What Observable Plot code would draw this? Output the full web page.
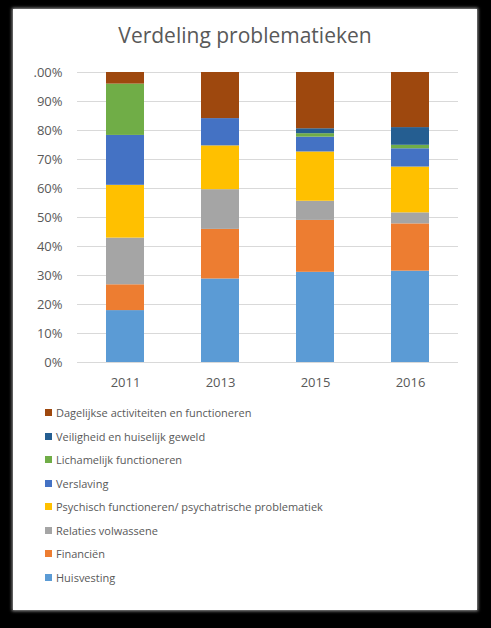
<!DOCTYPE html>
<html>
<head>
<meta charset="utf-8">
<script src="https://cdn.jsdelivr.net/npm/d3@7"></script>
<script src="https://cdn.jsdelivr.net/npm/@observablehq/plot@0.6"></script>
<style>
  html, body { margin: 0; padding: 0; background: #000; }
  body { width: 491px; height: 628px; position: relative; overflow: hidden; font-family: "Open Sans", sans-serif; }
  #panel { position: absolute; left: 13px; top: 9px; width: 464px; height: 601px; background: #fff;
           box-shadow: 0 0 3px 1px rgba(170,170,170,0.9); }
  #title { position: absolute; left: 0; width: 464px; top: 12px; text-align: center; font-size: 21px; color: #595959; }
  #chart { position: absolute; left: 0; top: 51px; }
  #legend { position: absolute; left: 32px; top: 392px; font-size: 11px; color: #595959; }
  .item { height: 23.5px; line-height: 23.5px; display: flex; align-items: center; }
  .sw { width: 7px; height: 7px; margin-right: 4px; }
</style>
</head>
<body>
<div id="panel">
  <div id="title">Verdeling problematieken</div>
  <div id="chart"></div>
  <div id="legend"></div>
</div>
<script>
const years = ["2011", "2013", "2015", "2016"];
const categories = [
  "Huisvesting",
  "Financiën",
  "Relaties volwassene",
  "Psychisch functioneren/ psychatrische problematiek",
  "Verslaving",
  "Lichamelijk functioneren",
  "Veiligheid en huiselijk geweld",
  "Dagelijkse activiteiten en functioneren"
];
const colors = ["#5B9BD5", "#ED7D31", "#A5A5A5", "#FFC000", "#4472C4", "#70AD47", "#255E91", "#9E480E"];

// percentages per year (2011, 2013, 2015, 2016)
const huisvesting  = [17.9, 28.8, 31.1, 31.5];
const financien    = [8.9, 17.1, 17.9, 16.3];
const relaties     = [16.1, 13.7, 6.6, 3.8];
const psychisch    = [18.2, 15.1, 17.0, 15.8];
const verslaving   = [17.2, 9.4, 5.1, 6.3];
const lichamelijk  = [17.7, 0, 1.2, 1.2];
const veiligheid   = [0, 0, 1.7, 6.1];
const dagelijkse   = [4.0, 15.9, 19.4, 19.0];

const yTicks = [0, 10, 20, 30, 40, 50, 60, 70, 80, 90, 100];
const yTickLabels = ["0%", "10%", "20%", "30%", "40%", "50%", "60%", "70%", "80%", "90%", ".00%"];

const series = [huisvesting, financien, relaties, psychisch, verslaving, lichamelijk, veiligheid, dagelijkse];
const data = [];
years.forEach((y, i) => {
  categories.forEach((c, j) => {
    data.push({year: y, category: c, value: series[j][i]});
  });
});

const chart = Plot.plot({
  width: 464,
  height: 340,
  marginLeft: 64,
  marginRight: 19,
  marginTop: 12,
  marginBottom: 38,
  style: {fontFamily: "'Open Sans', sans-serif", fontSize: "13px", color: "#595959", background: "transparent"},
  x: {domain: years, paddingInner: 0.6, paddingOuter: 0.3, label: null},
  y: {domain: [0, 100], label: null},
  color: {domain: categories, range: colors},
  marks: [
    Plot.gridY(yTicks, {stroke: "#D9D9D9", strokeOpacity: 1}),
    Plot.barY(data, Plot.stackY({x: "year", y: "value", fill: "category", order: null})),
    Plot.axisX({tickSize: 0, tickPadding: 15, label: null, fill: "#595959"}),
    Plot.axisY({ticks: yTicks, tickSize: 0, tickPadding: 15, label: null,
      tickFormat: d => yTickLabels[yTicks.indexOf(d)], fill: "#595959"})
  ]
});
document.getElementById("chart").appendChild(chart);

const legend = document.getElementById("legend");
for (let j = categories.length - 1; j >= 0; j--) {
  const row = document.createElement("div");
  row.className = "item";
  const sw = document.createElement("span");
  sw.className = "sw";
  sw.style.background = colors[j];
  const t = document.createElement("span");
  t.textContent = categories[j];
  row.appendChild(sw);
  row.appendChild(t);
  legend.appendChild(row);
}
</script>
</body>
</html>
